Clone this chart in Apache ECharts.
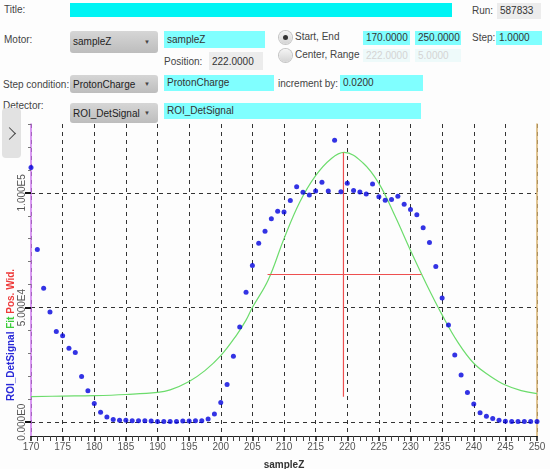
<!DOCTYPE html>
<html lang="en">
<head>
    <meta charset="UTF-8">
    <title>Scan</title>
    <style>
        body {
            margin: 0;
            width: 550px;
            height: 469px;
            background-color: #fdfdfd;
            font: 10px "Liberation Sans", Arial, sans-serif;
            color: #444;
            overflow: hidden;
            position: relative;
        }

        .lbl, .box, .combo, .radio {
            position: absolute;
            white-space: nowrap;
        }

        .box {
            background: #80ffff;
            color: #333;
            padding-left: 3px;
            box-sizing: border-box;
        }

        .box.gray { background: #ececec; }
        .box.off { background: #eefafa; color: #d4d4d4; }

        .combo {
            background: linear-gradient(#d6d6d6, #bdbdbd);
            border-radius: 3px;
            color: #222;
            padding-left: 3px;
            box-sizing: border-box;
        }

        .combo::after {
            content: '\25BC';
            position: absolute;
            right: 8px;
            font-size: 6px;
            color: #444;
        }

        .radio {
            width: 13px;
            height: 13px;
            border-radius: 50%;
            background: linear-gradient(#f4f4f4, #d4d4d4);
            box-shadow: 0 0 0 1px #c4c4c4;
        }

        .radio.on::after {
            content: '';
            position: absolute;
            left: 4px;
            top: 4px;
            width: 5px;
            height: 5px;
            border-radius: 50%;
            background: #333;
        }

        #toggle {
            position: absolute;
            left: 2px;
            top: 108px;
            width: 19px;
            height: 50px;
            border-radius: 4px;
            background: #e2e2e2;
            z-index: 2;
        }

        /* 折叠按钮的箭头 */
        #toggle span {
            position: absolute;
            left: 3px;
            top: 21px;
            width: 8px;
            height: 8px;
            border-top: 1.2px solid #444;
            border-right: 1.2px solid #444;
            transform: rotate(45deg);
        }

        #scan-chart {
            position: absolute;
            left: 0;
            top: 100px;
            width: 550px;
            height: 369px;
        }
    </style>
</head>
<body>

    <!-- 表单 -->
    <div class="lbl" style="left:4px; top:4px;">Title:</div>
    <div class="box" style="left:70px; top:3px; width:382px; height:14px; background:#00f4f4;"></div>
    <div class="lbl" style="left:472px; top:5px;">Run:</div>
    <div class="box gray" style="left:497px; top:3px; width:44px; height:16px; line-height:16px;">587833</div>

    <div class="lbl" style="left:4px; top:34px;">Motor:</div>
    <div class="combo" style="left:70px; top:31px; width:88px; height:22px; line-height:22px;">sampleZ</div>
    <div class="box" style="left:164px; top:31px; width:101px; height:17px; line-height:17px;">sampleZ</div>
    <div class="lbl" style="left:164px; top:56px;">Position:</div>
    <div class="box gray" style="left:209px; top:52px; width:54px; height:18px; line-height:20px;">222.0000</div>

    <div class="radio on" style="left:279px; top:31px;"></div>
    <div class="lbl" style="left:295px; top:31px;">Start, End</div>
    <div class="radio" style="left:279px; top:49px;"></div>
    <div class="lbl" style="left:295px; top:49px;">Center, Range</div>
    <div class="box" style="left:363px; top:31px; width:47px; height:14px; line-height:14px;">170.0000</div>
    <div class="box" style="left:415px; top:31px; width:46px; height:14px; line-height:14px;">250.0000</div>
    <div class="box off" style="left:363px; top:49px; width:47px; height:13px; line-height:13px;">222.0000</div>
    <div class="box off" style="left:415px; top:49px; width:46px; height:13px; line-height:13px;">5.0000</div>
    <div class="lbl" style="left:472px; top:32px;">Step:</div>
    <div class="box" style="left:496px; top:31px; width:46px; height:14px; line-height:14px;">1.0000</div>

    <div class="lbl" style="left:3px; top:79px;">Step condition:</div>
    <div class="combo" style="left:70px; top:75px; width:88px; height:18px; line-height:19px;">ProtonCharge</div>
    <div class="box" style="left:164px; top:75px; width:110px; height:16px; line-height:16px;">ProtonCharge</div>
    <div class="lbl" style="left:278px; top:78px;">increment by:</div>
    <div class="box" style="left:340px; top:75px; width:83px; height:16px; line-height:16px;">0.0200</div>

    <div class="lbl" style="left:3px; top:100px;">Detector:</div>
    <div class="combo" style="left:70px; top:103px; width:88px; height:20px; line-height:21px;">ROI_DetSignal</div>
    <div class="box" style="left:164px; top:103px; width:257px; height:16px; line-height:15px;">ROI_DetSignal</div>

    <div id="toggle"><span></span></div>

    <!-- 扫描曲线 -->
    <div id="scan-chart"></div>

    <script src="https://cdn.jsdelivr.net/npm/echarts@6.0.0/dist/echarts.min.js"></script>
    <script>

        // 扫描位置 sampleZ
        const sampleZ = [
            170, 171, 172, 173, 174, 175, 176, 177, 178, 179,
            180, 181, 182, 183, 184, 185, 186, 187, 188, 189,
            190, 191, 192, 193, 194, 195, 196, 197, 198, 199,
            200, 201, 202, 203, 204, 205, 206, 207, 208, 209,
            210, 211, 212, 213, 214, 215, 216, 217, 218, 219,
            220, 221, 222, 223, 224, 225, 226, 227, 228, 229,
            230, 231, 232, 233, 234, 235, 236, 237, 238, 239,
            240, 241, 242, 243, 244, 245, 246, 247, 248, 249,
            250,
        ];

        // 探测器信号 ROI_DetSignal
        const detSignal = [
            111000, 75300, 58400, 48000, 39600, 37700, 32300, 30400, 19900, 13700,
            8200, 4300, 2300, 1200, 900, 900, 700, 600, 600, 500,
            300, 300, 300, 300, 500, 500, 600, 700, 1400, 3600,
            8600, 16500, 28800, 41500, 56700, 68300, 78000, 83200, 88700, 92000,
            91600, 96700, 102600, 100200, 99000, 100800, 104600, 100800, 122900, 100500,
            104200, 101000, 100400, 99500, 103800, 98300, 96800, 97100, 98500, 95000,
            92700, 90400, 84800, 78400, 67900, 54200, 42400, 29300, 20600, 13000,
            7900, 4100, 2600, 1600, 900, 400, 300, 300, 300, 300,
            300,
        ];

        // 拟合曲线 Fit
        const fitX = [
            170, 175, 180, 185, 190, 192, 195, 197.5, 200, 202.5,
            204, 205, 207.5, 210, 212.5, 215, 217.5, 219.5, 222.5, 225,
            227.5, 230, 232.5, 235, 237.5, 240, 242.5, 245, 247.5, 250,
        ];
        const fitY = [
            11200, 11400, 11600, 12100, 13000, 14100, 17800, 22500, 29000, 38000,
            44500, 50000, 62000, 80000, 96000, 107500, 115000, 117600, 113000, 104100,
            90200, 74900, 60300, 46800, 34800, 25700, 20300, 16200, 13800, 12500,
        ];

        // 峰位 Pos. 与半高宽 Wid.
        const peakPos = 219.4;
        const peakTop = 117600;
        const peakBase = 11100;
        const halfLeft = 207.4;
        const halfRight = 231.7;
        const halfHeight = 64400;

        // 刻度
        const yTickValues = [0, 50000, 100000];
        const yTickLabels = ['0.000E0', '5.000E4', '1.000E5'];
        const yMinorTicks = [
            10000, 20000, 30000, 40000, 60000, 70000, 80000, 90000,
            110000, 120000, 130000,
        ];
        const yMin = -6000;
        const yMax = 130000;

        const scanChart = echarts.init(document.getElementById('scan-chart'));

        const labelFont = {
            fontFamily: '"Liberation Sans", Arial, sans-serif',
            fontSize: 10,
            color: '#555',
        };

        const option = {
            animation: false,
            grid: {
                left: 31,
                right: 13,
                top: 24,
                bottom: 33,
                outerBoundsMode: 'none',
            },
            xAxis: {
                type: 'value',
                min: 170,
                max: 250,
                interval: 5,
                name: 'sampleZ',
                nameLocation: 'middle',
                nameGap: 24,
                nameTextStyle: {
                    fontFamily: '"Liberation Sans", Arial, sans-serif',
                    fontWeight: 'bold',
                    fontSize: 10,
                    color: '#333',
                },
                axisLine: {
                    onZero: false,
                    lineStyle: { color: '#222', width: 1 },
                },
                axisTick: {
                    length: 5,
                    lineStyle: { color: '#111', width: 1.5 },
                },
                minorTick: {
                    show: true,
                    splitNumber: 5,
                    length: 5,
                    lineStyle: { color: '#444', width: 1 },
                },
                axisLabel: Object.assign({ margin: 6 }, labelFont),
                splitLine: {
                    show: true,
                    lineStyle: { type: [4, 4], color: '#333', width: 1 },
                },
            },
            yAxis: [
                {
                    type: 'value',
                    min: yMin,
                    max: yMax,
                    position: 'left',
                    axisLine: {
                        show: true,
                        onZero: false,
                        lineStyle: { color: '#cc77ee', width: 1.5 },
                    },
                    axisTick: {
                        show: true,
                        customValues: yTickValues,
                        length: 6,
                        lineStyle: { color: '#111', width: 2 },
                    },
                    axisLabel: Object.assign({
                        customValues: yTickValues,
                        rotate: 90,
                        margin: 4,
                        formatter: function (value) {
                            const i = yTickValues.indexOf(value);
                            return i >= 0 ? yTickLabels[i] : '';
                        },
                    }, labelFont),
                    splitLine: {
                        show: true,
                        lineStyle: { type: [4, 4], color: '#333', width: 1 },
                    },
                },
                {
                    // 次刻度
                    type: 'value',
                    min: yMin,
                    max: yMax,
                    position: 'left',
                    axisLine: { show: false, onZero: false },
                    axisTick: {
                        show: true,
                        customValues: yMinorTicks,
                        length: 3,
                        lineStyle: { color: '#777', width: 1 },
                    },
                    axisLabel: { show: false },
                    splitLine: { show: false },
                },
                {
                    // 右边框
                    type: 'value',
                    min: yMin,
                    max: yMax,
                    position: 'right',
                    axisLine: {
                        show: true,
                        onZero: false,
                        lineStyle: { color: '#d6b16e', width: 1.5 },
                    },
                    axisTick: { show: false },
                    axisLabel: { show: false },
                    splitLine: { show: false },
                },
            ],
            graphic: [
                {
                    type: 'text',
                    x: 11,
                    y: 301,
                    rotation: Math.PI / 2,
                    style: {
                        text: '{b|ROI_DetSignal} {g|Fit} {r|Pos.} {r|Wid.}',
                        font: 'bold 10px "Liberation Sans", Arial, sans-serif',
                        align: 'left',
                        verticalAlign: 'middle',
                        rich: {
                            b: { fill: '#2a2ad8', fontWeight: 'bold', fontSize: 10 },
                            g: { fill: '#3ccc3c', fontWeight: 'bold', fontSize: 10 },
                            r: { fill: '#ee3a3a', fontWeight: 'bold', fontSize: 10 },
                        },
                    },
                },
            ],
            series: [
                {
                    name: 'Fit',
                    type: 'line',
                    data: fitX.map((x, i) => [x, fitY[i]]),
                    smooth: 0.4,
                    showSymbol: false,
                    lineStyle: { color: '#6cdc6c', width: 1.2 },
                    z: 2,
                },
                {
                    name: 'Wid.',
                    type: 'line',
                    data: [[halfLeft, halfHeight], [halfRight, halfHeight]],
                    showSymbol: false,
                    lineStyle: { color: '#ee5050', width: 1.2 },
                    z: 2,
                },
                {
                    name: 'Pos.',
                    type: 'line',
                    data: [[peakPos, peakBase], [peakPos, peakTop]],
                    showSymbol: false,
                    lineStyle: { color: '#ee5050', width: 1.2 },
                    z: 2,
                },
                {
                    name: 'ROI_DetSignal',
                    type: 'scatter',
                    data: sampleZ.map((x, i) => [x, detSignal[i]]),
                    symbolSize: 5,
                    itemStyle: { color: '#0000dd' },
                    z: 3,
                },
            ],
        };

        scanChart.setOption(option);

    </script>
</body>
</html>
